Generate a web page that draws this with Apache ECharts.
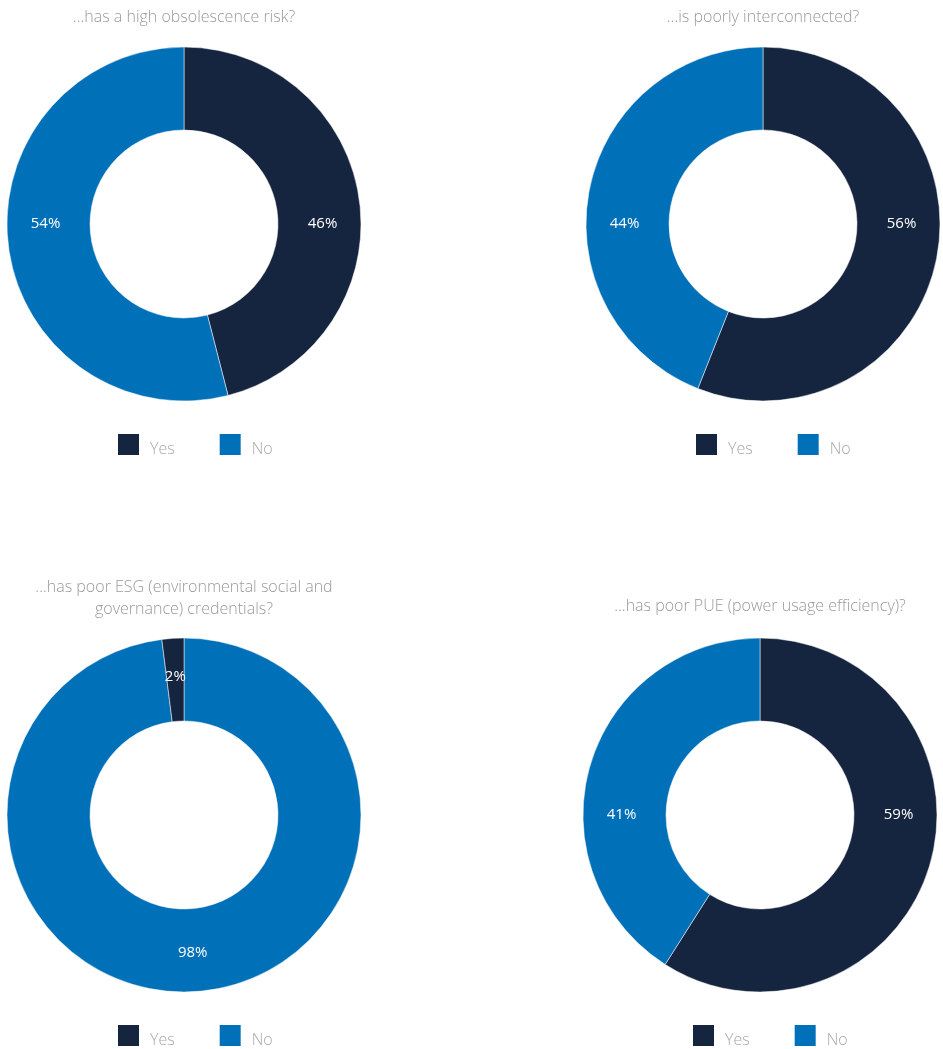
<!DOCTYPE html>
<html>
<head>
<meta charset="utf-8">
<script src="https://cdn.jsdelivr.net/npm/echarts@6/dist/echarts.min.js"></script>
<style>
html,body{margin:0;padding:0;background:#fff;}
#c{width:943px;height:1049px;}
</style>
</head>
<body>
<div id="c"></div>
<script>
const titles = [
  '...has a high obsolescence risk?',
  '...is poorly interconnected?',
  '...has poor ESG (environmental social and\ngovernance) credentials?',
  '...has poor PUE (power usage efficiency)?'
];
const categories = ['Yes', 'No'];
const obsolescence = [46, 54];
const interconnected = [56, 44];
const esg = [2, 98];
const pue = [59, 41];
// order in which slices are drawn clockwise from 12 o'clock
const drawOrder = [[0,1],[0,1],[1,0],[0,1]];
// charts whose labels sit on the horizontal mid-line
const horizontalLabels = [true, true, false, true];
const allValues = [obsolescence, interconnected, esg, pue];

const colors = {Yes: '#16253f', No: '#0070b8'};
const centers = [[184,224],[763,224],[184,815],[760,815]];
const titleTops = [6, 6, 576, 595];
const legendTops = [432, 432, 1023, 1023];
const legendLefts = [116, 694, 116, 691];
const font = '"Open Sans", "Noto Sans", sans-serif';

const series = [];
allValues.forEach((vals, i) => {
  const data = drawOrder[i].map(k => ({
    name: categories[k],
    value: vals[k],
    itemStyle: {color: colors[categories[k]]}
  }));
  series.push({
    type: 'pie',
    center: centers[i],
    radius: [94, 177],
    startAngle: 90,
    clockwise: true,
    avoidLabelOverlap: false,
    emphasis: {disabled: true},
    itemStyle: {borderColor: '#ffffff', borderWidth: 0.5},
    label: {show: false},
    labelLine: {show: false},
    data: data
  });
  // label layer: same data, rotated so that labels sit where the reference puts them
  const first = vals[drawOrder[i][0]];
  series.push({
    type: 'pie',
    center: centers[i],
    radius: [94, 177],
    startAngle: horizontalLabels[i] ? first * 1.8 : 90,
    clockwise: true,
    silent: true,
    legendHoverLink: false,
    avoidLabelOverlap: false,
    emphasis: {disabled: true},
    itemStyle: {color: 'rgba(0,0,0,0)', borderWidth: 0},
    label: {
      show: true,
      position: 'inside',
      formatter: '{c}%',
      color: '#ffffff',
      fontSize: 15,
      fontFamily: font
    },
    labelLine: {show: false},
    data: data.map(d => ({name: d.name, value: d.value, itemStyle: {color: 'rgba(0,0,0,0)'}}))
  });
});

const title = titles.map((t, i) => ({
  text: t,
  left: centers[i][0],
  textAlign: 'center',
  top: titleTops[i],
  padding: 0,
  textStyle: {
    color: '#9a9a9a',
    fontSize: 16,
    fontWeight: 300,
    fontFamily: font,
    lineHeight: 22
  }
}));

const legend = centers.map((c, i) => ({
  data: categories.map(n => ({name: n, itemStyle: {color: colors[n]}})),
  left: legendLefts[i],
  top: legendTops[i],
  orient: 'horizontal',
  icon: 'rect',
  itemWidth: 23,
  itemHeight: 23,
  itemGap: 43,
  padding: 0,
  selectedMode: false,
  formatter: '{t|{name}}',
  textStyle: {
    rich: {
      t: {
        color: '#a8a8a8',
        fontSize: 16,
        fontWeight: 300,
        fontFamily: font,
        padding: [10, 0, 0, 5]
      }
    }
  }
}));

const chart = echarts.init(document.getElementById('c'));
chart.setOption({
  animation: false,
  backgroundColor: '#ffffff',
  title: title,
  legend: legend,
  series: series
});
</script>
</body>
</html>
